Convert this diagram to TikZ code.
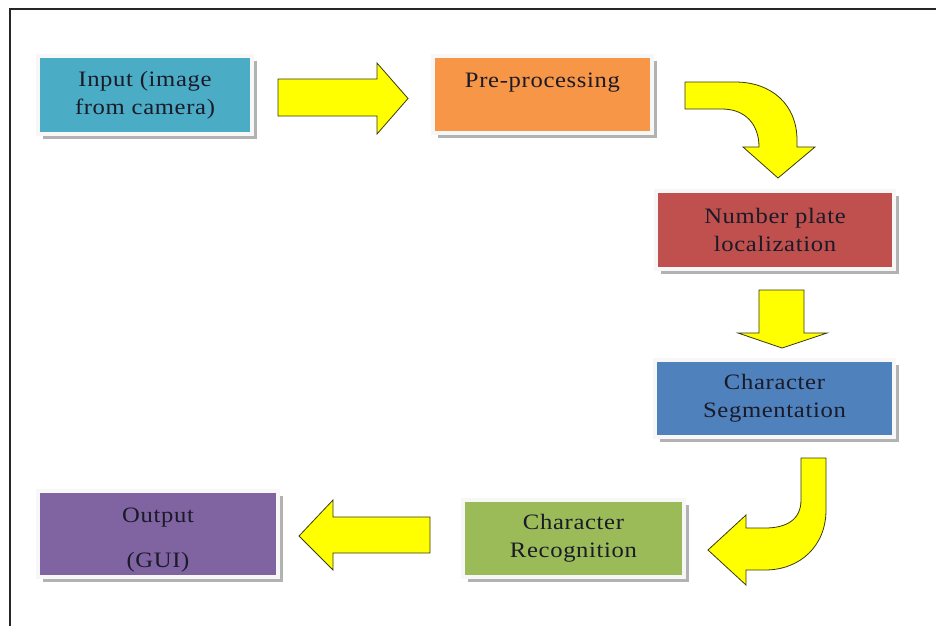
\documentclass[tikz,border=0pt]{standalone}
\usepackage{fontspec}
\setmainfont{Liberation Serif}[FakeStretch=1.12,LetterSpace=3]
\usetikzlibrary{shadows}
\definecolor{cInp}{HTML}{4BACC6}
\definecolor{cPre}{HTML}{F79646}
\definecolor{cNpl}{HTML}{C0504D}
\definecolor{cSeg}{HTML}{4F81BD}
\definecolor{cRec}{HTML}{9BBB59}
\definecolor{cOut}{HTML}{8064A2}
\definecolor{arrowfill}{HTML}{FFFF00}
\definecolor{arrowline}{HTML}{3A3A10}
\definecolor{txt}{HTML}{1A1A28}
\tikzset{
  box/.style={rectangle, draw=white!94!gray, line width=3pt, align=center,
    text=txt, font=\fontsize{16.5}{21}\selectfont, inner sep=0pt,
    general shadow={fill=gray!60, shadow xshift=3.5pt, shadow yshift=-3.5pt}},
  blockarrow/.style={fill=arrowfill, draw=arrowline, line width=0.6pt, line join=miter},
  frame/.style={draw=black!85, line width=1.1pt}
}
\begin{document}
\begin{tikzpicture}[x=0.75pt,y=-0.75pt]
\useasboundingbox (0,0) rectangle (936,626);
\fill[white] (0,0) rectangle (936,626);
\draw[frame] (10,626) -- (10,9) -- (936,9);

\node[box, fill=cInp, minimum width=160.5pt, minimum height=58.5pt] (inp) at (145,95) {Input (image\\from camera)};
\node[box, fill=cPre, minimum width=164.25pt, minimum height=57.75pt] (pre) at (542.5,94.5) {Pre-processing\\[-6pt]\strut};
\node[box, fill=cNpl, minimum width=178.5pt, minimum height=58.5pt] (npl) at (775,230) {Number plate\\localization};
\node[box, fill=cSeg, minimum width=179.25pt, minimum height=57.75pt] (seg) at (774.5,398.5) {Character\\Segmentation};
\node[box, fill=cRec, minimum width=165.75pt, minimum height=57.75pt] (rec) at (573.5,538.5) {Character\\Recognition};
\node[box, fill=cOut, minimum width=180pt, minimum height=64.5pt] (out) at (158,534) {\rule{0pt}{20pt}Output\\[13pt](GUI)};

% inp -> pre
\draw[blockarrow] (278,79) -- (377,79) -- (377,63) -- (408,98.5) -- (377,134) -- (377,116) -- (278,116) -- cycle;
% pre -> npl
\draw[blockarrow] (685,82) -- (735,82) .. controls (772,82) and (797,105) .. (797,140) -- (797,147) -- (815,147) -- (778,178) -- (743,147) -- (759,147) .. controls (759,124) and (745,109) .. (722,109) -- (685,109) -- cycle;
% npl -> seg
\draw[blockarrow] (759,290) -- (804,290) -- (804,333) -- (827,333) -- (782,348) -- (738,333) -- (759,333) -- cycle;
% seg -> rec
\draw[blockarrow] (801,458) -- (826,458) -- (826,510) .. controls (826,546) and (800,570) .. (765,570) -- (746,570) -- (746,585) -- (708,550) -- (746,515) -- (746,528) -- (765,528) .. controls (786,528) and (801,520) .. (801,500) -- cycle;
% rec -> out
\draw[blockarrow] (430,517) -- (333,517) -- (333,500) -- (299,536) -- (333,570) -- (333,553) -- (430,553) -- cycle;
\end{tikzpicture}
\end{document}
